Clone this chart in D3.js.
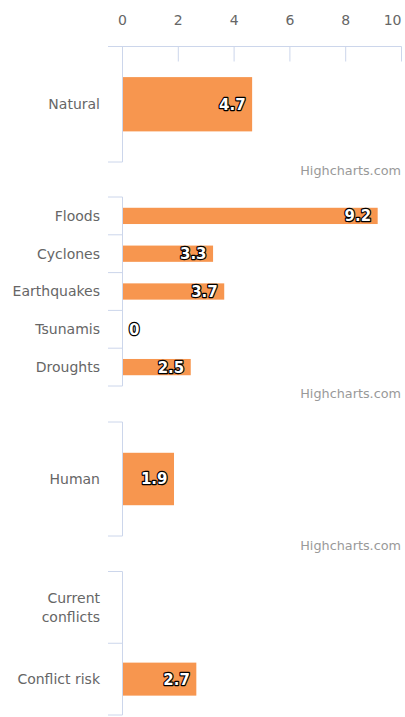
<!DOCTYPE html>
<html>
<head>
<meta charset="utf-8">
<script src="https://cdn.jsdelivr.net/npm/d3@7"></script>
<style>
  body { margin: 0; background: #fff; }
  svg { display: block; font-family: "DejaVu Sans", sans-serif; }
</style>
</head>
<body>
<div id="chart"></div>
<script>
// Chart data
var xTicks = [0, 2, 4, 6, 8, 10];

var naturalCats = ['Natural'];
var naturalValues = [4.7];

var hazardCats = ['Floods', 'Cyclones', 'Earthquakes', 'Tsunamis', 'Droughts'];
var hazardValues = [9.2, 3.3, 3.7, 0, 2.5];

var humanCats = ['Human'];
var humanValues = [1.9];

var conflictCats = [['Current', 'conflicts'], ['Conflict risk']];
var conflictValues = [null, 2.7];

var creditText = 'Highcharts.com';

// Layout for each panel (pixels)
var panels = [
  {cats: naturalCats,  values: naturalValues,  top: 46.5,  bottom: 162,   barRatio: 0.47, credit: 175, axis: true},
  {cats: hazardCats,   values: hazardValues,   top: 197,   bottom: 386,   barRatio: 0.43, credit: 398},
  {cats: humanCats,    values: humanValues,    top: 422,   bottom: 536,   barRatio: 0.46, credit: 550},
  {cats: conflictCats, values: conflictValues, top: 571.5, bottom: 715,   barRatio: 0.46}
];

var width = 405, height = 717;
var axisColor = '#ccd6eb';
var barColor = '#f7964f';

var svg = d3.select('#chart').append('svg')
            .attr('width', width)
            .attr('height', height);

var x = d3.scaleLinear().domain([0, 10]).range([122.5, 401.5]);

panels.forEach(function(p, pi) {
  var g = svg.append('g').attr('class', 'panel-' + pi);

  var y = d3.scaleBand()
            .domain(d3.range(p.cats.length))
            .range([p.top, p.bottom])
            .padding(0);

  // Top value axis (first panel only)
  if (p.axis) {
    g.append('line')
     .attr('x1', 108).attr('x2', x(10))
     .attr('y1', p.top).attr('y2', p.top)
     .attr('stroke', axisColor).attr('stroke-width', 1);

    g.selectAll('.xtick')
     .data(xTicks)
     .enter().append('line')
     .attr('class', 'xtick')
     .attr('x1', function(d) { return x(d); })
     .attr('x2', function(d) { return x(d); })
     .attr('y1', p.top).attr('y2', p.top + 15)
     .attr('stroke', axisColor).attr('stroke-width', 1);

    // last label is pulled inside the chart edge
    g.selectAll('.xlabel')
     .data(xTicks)
     .enter().append('text')
     .attr('class', 'xlabel')
     .attr('x', function(d) { return x(d); })
     .attr('y', 25)
     .attr('text-anchor', function(d, i) { return i == xTicks.length - 1 ? 'end' : 'middle'; })
     .attr('font-size', 14)
     .attr('fill', '#666')
     .text(function(d) { return d; });
  }

  // Category axis line
  g.append('line')
   .attr('x1', x(0)).attr('x2', x(0))
   .attr('y1', p.top).attr('y2', p.bottom)
   .attr('stroke', axisColor).attr('stroke-width', 1);

  // Category tick marks (band boundaries)
  var bounds = d3.range(p.cats.length + 1).map(function(i) {
    return i < p.cats.length ? y(i) : p.bottom;
  });
  g.selectAll('.ytick')
   .data(bounds)
   .enter().append('line')
   .attr('class', 'ytick')
   .attr('x1', 108).attr('x2', x(0))
   .attr('y1', function(d) { return d; })
   .attr('y2', function(d) { return d; })
   .attr('stroke', axisColor).attr('stroke-width', 1);

  // Category labels
  g.selectAll('.ylabel')
   .data(p.cats)
   .enter().append('text')
   .attr('class', 'ylabel')
   .attr('text-anchor', 'end')
   .attr('font-size', 14)
   .attr('fill', '#666')
   .each(function(d, i) {
     var lines = Array.isArray(d) ? d : [d];
     var cy = y(i) + y.bandwidth() / 2;
     var lh = 19.5;
     var y0 = cy - (lines.length - 1) * lh / 2;
     d3.select(this).selectAll('tspan')
       .data(lines)
       .enter().append('tspan')
       .attr('x', 100)
       .attr('y', function(l, j) { return y0 + j * lh; })
       .attr('dy', '0.35em')
       .text(function(l) { return l; });
   });

  // Bars and data labels
  var bh = y.bandwidth() * p.barRatio;
  p.values.forEach(function(v, i) {
    if (v == null) return;
    var cy = y(i) + y.bandwidth() / 2;
    if (v > 0) {
      g.append('rect')
       .attr('class', 'bar')
       .attr('x', x(0) + 0.5)
       .attr('y', cy - bh / 2)
       .attr('width', x(v) - x(0) - 2)
       .attr('height', bh)
       .attr('fill', barColor);
    }
    var lbl = g.append('text')
               .attr('class', 'dlabel')
               .attr('y', cy)
               .attr('dy', '0.36em')
               .attr('font-size', 15)
               .attr('font-weight', 'bold')
               .attr('fill', '#fff')
               .attr('stroke', '#000')
               .attr('stroke-width', 2.4)
               .attr('stroke-linejoin', 'round')
               .attr('paint-order', 'stroke')
               .text(v);
    if (v > 0) {
      lbl.attr('x', x(v) - 8).attr('text-anchor', 'end');
    } else {
      lbl.attr('x', 129).attr('text-anchor', 'start');
    }
  });

  // Credits
  if (p.credit) {
    g.append('text')
     .attr('x', 401)
     .attr('y', p.credit)
     .attr('text-anchor', 'end')
     .attr('font-size', 12.8)
     .attr('fill', '#999')
     .text(creditText);
  }
});
</script>
</body>
</html>
